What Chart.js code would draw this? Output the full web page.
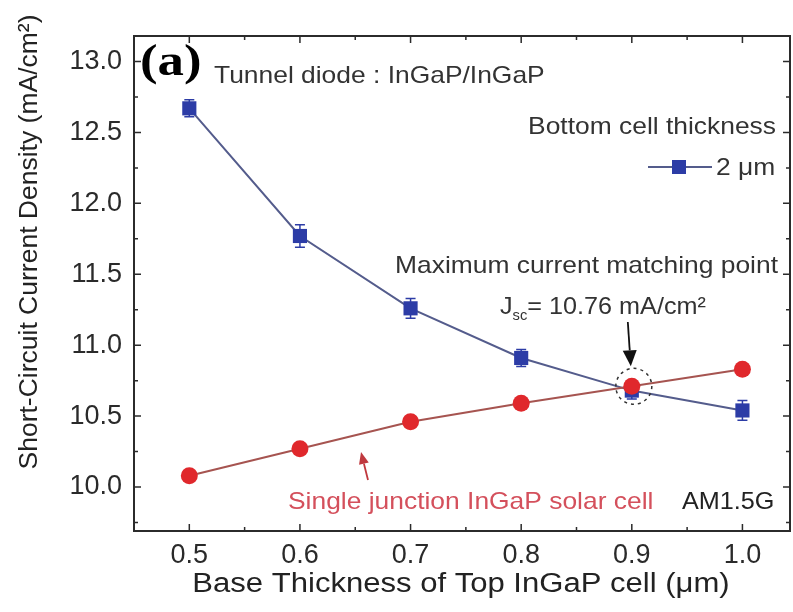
<!DOCTYPE html>
<html>
<head>
<meta charset="utf-8">
<script src="https://cdn.jsdelivr.net/npm/chart.js@4/dist/chart.umd.min.js"></script>
<style>
  html, body { margin: 0; padding: 0; background: #fff; }
  #wrap { width: 793px; height: 612px; }
</style>
</head>
<body>
<div id="wrap"><canvas id="jsc-chart" width="793" height="612"></canvas></div>
<script>
// base thickness of the top InGaP cell (um)
const thickness = [0.5, 0.6, 0.7, 0.8, 0.9, 1.0];
// tandem cell, bottom cell 2 um
const jscTandem = [12.67, 11.77, 11.26, 10.91, 10.68, 10.54];
const jscTandemErr = [0.06, 0.08, 0.07, 0.06, 0.06, 0.07];
// single junction InGaP cell
const jscSingle = [10.08, 10.27, 10.46, 10.59, 10.71, 10.83];
const jscSingleErr = [0.03, 0.03, 0.04, 0.04, 0.04, 0.04];

const xTicks = [0.5, 0.6, 0.7, 0.8, 0.9, 1.0];
const yTicks = [10.0, 10.5, 11.0, 11.5, 12.0, 12.5, 13.0];

const FONT = '"Liberation Sans", Arial, sans-serif';
const AXIS_COLOR = '#2b2b2b';
const SX = 1.1; // the source figure is a bit wide, text is stretched to match

const toPoints = (xs, ys) => xs.map((x, i) => ({ x: x, y: ys[i] }));

// text drawn with a horizontal stretch, returns the drawn width
function wideText(ctx, text, x, y, align, sx) {
    const w = ctx.measureText(text).width * sx;
    let left = x;
    if (align === 'right') left = x - w;
    else if (align === 'center') left = x - w / 2;
    ctx.save();
    ctx.translate(left, y);
    ctx.scale(sx, 1);
    ctx.textAlign = 'left';
    ctx.fillText(text, 0, 0);
    ctx.restore();
    return w;
}

// vertical error bars with caps, drawn from the data through the scales
const errorBars = {
    id: 'errorBars',
    beforeDatasetsDraw(chart) {
        const { ctx, scales: { x, y } } = chart;
        chart.data.datasets.forEach(ds => {
            if (!ds.errors) return;
            ctx.save();
            ctx.strokeStyle = ds.pointBackgroundColor;
            ctx.lineWidth = 1.5;
            ds.data.forEach((p, i) => {
                const px = x.getPixelForValue(p.x);
                const top = y.getPixelForValue(p.y + ds.errors[i]);
                const bot = y.getPixelForValue(p.y - ds.errors[i]);
                ctx.beginPath();
                ctx.moveTo(px, top); ctx.lineTo(px, bot);
                ctx.moveTo(px - 5, top); ctx.lineTo(px + 5, top);
                ctx.moveTo(px - 5, bot); ctx.lineTo(px + 5, bot);
                ctx.stroke();
            });
            ctx.restore();
        });
    }
};

// frame, inward ticks, titles and the notes on the plot
const decorations = {
    id: 'decorations',
    afterDraw(chart) {
        const { ctx, chartArea: a, scales: { x, y } } = chart;
        ctx.save();

        // frame
        ctx.strokeStyle = AXIS_COLOR;
        ctx.lineWidth = 2;
        ctx.strokeRect(a.left, a.top, a.right - a.left, a.bottom - a.top);

        // inward ticks on all four sides
        ctx.lineWidth = 1.5;
        ctx.beginPath();
        for (let v = 0.45; v <= x.max + 1e-6; v += 0.05) {
            const px = x.getPixelForValue(v);
            const major = Math.abs(Math.round(v * 10) - v * 10) < 1e-6;
            const len = major ? 7 : 4;
            ctx.moveTo(px, a.bottom); ctx.lineTo(px, a.bottom - len);
            ctx.moveTo(px, a.top); ctx.lineTo(px, a.top + len);
        }
        for (let v = 9.75; v <= y.max + 1e-6; v += 0.25) {
            const py = y.getPixelForValue(v);
            const major = Math.abs(Math.round(v * 2) - v * 2) < 1e-6;
            const len = major ? 7 : 4;
            ctx.moveTo(a.left, py); ctx.lineTo(a.left + len, py);
            ctx.moveTo(a.right, py); ctx.lineTo(a.right - len, py);
        }
        ctx.stroke();

        // axis titles
        ctx.fillStyle = '#222';
        ctx.textBaseline = 'middle';
        ctx.font = '27px ' + FONT;
        wideText(ctx, 'Base Thickness of Top InGaP cell (\u03bcm)', 461, 585, 'center', 1.15);
        ctx.save();
        ctx.translate(30, 242);
        ctx.rotate(-Math.PI / 2);
        ctx.font = '26.5px ' + FONT;
        ctx.textAlign = 'center';
        ctx.fillText('Short-Circuit Current Density (mA/cm\u00b2)', 0, 0);
        ctx.restore();

        // panel label
        ctx.fillStyle = '#000';
        ctx.font = 'bold 44px "Liberation Serif", "Times New Roman", serif';
        wideText(ctx, '(a)', 140, 64, 'left', 1.2);

        ctx.fillStyle = '#333';
        ctx.font = '24px ' + FONT;
        wideText(ctx, 'Tunnel diode : InGaP/InGaP', 214, 76, 'left', SX);
        wideText(ctx, 'Bottom cell thickness', 776, 127, 'right', SX);

        // legend entry
        const tandem = chart.data.datasets[0];
        ctx.strokeStyle = tandem.borderColor;
        ctx.lineWidth = 2;
        ctx.beginPath();
        ctx.moveTo(648, 167); ctx.lineTo(712, 167);
        ctx.stroke();
        ctx.fillStyle = tandem.pointBackgroundColor;
        ctx.fillRect(672, 160, 14, 14);
        ctx.fillStyle = '#333';
        wideText(ctx, '2 \u03bcm', 716, 168, 'left', SX);

        // matching point note
        wideText(ctx, 'Maximum current matching point', 778, 266, 'right', SX);
        let tx = 500;
        tx += wideText(ctx, 'J', tx, 307, 'left', 1.05);
        ctx.font = '14px ' + FONT;
        tx += wideText(ctx, 'sc', tx, 316, 'left', 1.05);
        ctx.font = '24px ' + FONT;
        wideText(ctx, '= 10.76 mA/cm\u00b2', tx, 307, 'left', 1.05);

        const cx = x.getPixelForValue(thickness[4]);
        const cy = y.getPixelForValue(jscSingle[4]);
        ctx.strokeStyle = '#333';
        ctx.lineWidth = 1.5;
        ctx.setLineDash([3, 4]);
        ctx.beginPath();
        ctx.arc(cx + 2, cy, 18, 0, Math.PI * 2);
        ctx.stroke();
        ctx.setLineDash([]);

        drawArrow(ctx, cx - 4, 322, cx - 1, cy - 20, '#111', 1.8, 16, 7);

        // single junction note
        drawArrow(ctx, 368, 480, 361, 452, '#c0393f', 1.8, 12, 5);
        ctx.fillStyle = '#d4505c';
        wideText(ctx, 'Single junction InGaP solar cell', 288, 502, 'left', SX);
        ctx.fillStyle = '#222';
        wideText(ctx, 'AM1.5G', 682, 502, 'left', 1.05);

        ctx.restore();
    }
};

function drawArrow(ctx, x0, y0, x1, y1, color, width, head, half) {
    const ang = Math.atan2(y1 - y0, x1 - x0);
    const bx = x1 - head * Math.cos(ang);
    const by = y1 - head * Math.sin(ang);
    ctx.save();
    ctx.strokeStyle = color;
    ctx.fillStyle = color;
    ctx.lineWidth = width;
    ctx.beginPath();
    ctx.moveTo(x0, y0); ctx.lineTo(bx, by);
    ctx.stroke();
    ctx.beginPath();
    ctx.moveTo(x1, y1);
    ctx.lineTo(bx + half * Math.sin(ang), by - half * Math.cos(ang));
    ctx.lineTo(bx - half * Math.sin(ang), by + half * Math.cos(ang));
    ctx.closePath();
    ctx.fill();
    ctx.restore();
}

const fixTicks = values => scale => {
    scale.ticks = values.map(v => ({ value: v }));
};

new Chart(document.getElementById('jsc-chart'), {
    type: 'line',
    data: {
        datasets: [
            {
                label: '2 \u03bcm',
                data: toPoints(thickness, jscTandem),
                errors: jscTandemErr,
                order: 1,
                borderColor: '#545c8c',
                borderWidth: 2,
                pointStyle: 'rect',
                pointRadius: 10,
                pointBackgroundColor: '#2c3ca6',
                pointBorderColor: '#2c3ca6',
                pointBorderWidth: 0
            },
            {
                label: 'Single junction InGaP solar cell',
                data: toPoints(thickness, jscSingle),
                errors: jscSingleErr,
                order: 0,
                borderColor: '#a65450',
                borderWidth: 2,
                pointStyle: 'circle',
                pointRadius: 8.5,
                pointBackgroundColor: '#e0282c',
                pointBorderColor: '#e0282c',
                pointBorderWidth: 0
            }
        ]
    },
    options: {
        responsive: false,
        devicePixelRatio: 1,
        animation: false,
        layout: { autoPadding: false, padding: { top: 36, right: 3, left: 0, bottom: 0 } },
        plugins: {
            legend: { display: false },
            tooltip: { enabled: false }
        },
        scales: {
            x: {
                type: 'linear',
                min: 0.45,
                max: 1.043,
                afterBuildTicks: fixTicks(xTicks),
                afterFit: s => { s.height = 81; s.paddingLeft = 0; s.paddingRight = 0; },
                grid: { drawOnChartArea: false, drawTicks: false },
                border: { display: false },
                ticks: {
                    padding: 8,
                    color: '#2a2a2a',
                    font: { family: FONT, size: 27 },
                    callback: v => v.toFixed(1)
                }
            },
            y: {
                type: 'linear',
                min: 9.69,
                max: 13.18,
                afterBuildTicks: fixTicks(yTicks),
                afterFit: s => { s.width = 134; s.paddingTop = 0; s.paddingBottom = 0; },
                grid: { drawOnChartArea: false, drawTicks: false },
                border: { display: false },
                ticks: {
                    padding: 12,
                    color: '#2a2a2a',
                    font: { family: FONT, size: 27 },
                    callback: v => v.toFixed(1)
                }
            }
        }
    },
    plugins: [errorBars, decorations]
});
</script>
</body>
</html>
